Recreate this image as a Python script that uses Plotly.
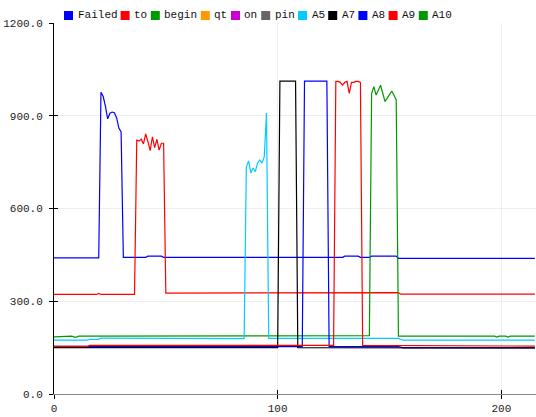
import plotly.graph_objects as go

# ---------------- data ----------------
labels = ["Failed", "to", "begin", "qt", "on", "pin", "A5", "A7", "A8", "A9", "A10"]
palette = ["#0000FF", "#FF0000", "#009900", "#FF9900", "#CC00CC", "#666666", "#00CCFF", "#000000"]

failed_x = [0, 20, 21, 22, 23, 24, 25, 26, 27, 28, 29, 30, 31, 41, 42, 48, 49, 129, 130, 136, 137, 141, 142, 153, 154, 215]
failed_y = [440, 440, 976, 962, 930, 890, 908, 912, 910, 893, 860, 848, 442, 442, 446, 446, 442, 442, 446, 446, 442, 442, 446, 446, 439, 439]

to_x = [0, 19, 20, 21, 36, 37, 38, 39, 40, 41, 42, 43, 44, 45, 46, 47, 48, 49, 50, 128, 129, 136, 137, 141, 142, 154, 155, 215]
to_y = [322, 322, 325, 322, 322, 821, 818, 824, 809, 841, 816, 787, 832, 797, 824, 789, 811, 811, 326, 326, 328, 328, 326, 326, 328, 328, 323, 323]

begin_x = [0, 2, 3, 8, 9, 10, 11, 109, 110, 111, 113, 114, 119, 120, 122, 123, 127, 128, 131, 132,
           141, 142, 143, 144, 145, 146, 147, 148, 149, 150, 151, 152, 153, 154,
           197, 198, 199, 202, 203, 204, 215]
begin_y = [185, 185, 187, 187, 184, 184, 187, 187, 189, 187, 187, 189, 189, 187, 187, 189, 189, 187, 187, 189,
           189, 972, 994, 967, 983, 999, 972, 946, 957, 968, 980, 966, 951, 187,
           187, 184, 187, 187, 184, 187, 187]

a5_x = [0, 15, 16, 20, 21, 22, 23, 85, 86, 87, 88, 89, 90, 91, 92, 93, 94, 95, 96, 154, 156, 215]
a5_y = [174, 174, 177, 177, 181, 181, 179, 179, 735, 754, 715, 731, 719, 747, 757, 747, 767, 909, 180, 180, 174, 174]

a7_x = [0, 100, 101, 108, 109, 215]
a7_y = [150, 150, 1012, 1012, 150, 149]

a8_x = [0, 15, 16, 111, 112, 122, 123, 154, 156, 215]
a8_y = [154, 154, 153, 153, 1012, 1012, 153, 153, 149, 149]

a9_x = [0, 15, 16, 125, 126, 127, 128, 129, 130, 131, 132, 133, 134, 135, 136, 137, 138, 154, 156, 215]
a9_y = [154, 154, 157, 157, 1011, 1011, 1008, 999, 1008, 1011, 972, 1008, 1008, 1011, 1011, 1008, 157, 157, 155, 155]

x_ticks = [0, 100, 200]
y_ticks = [0, 300, 600, 900, 1200]
x_range = [0, 215.5]
y_range = [0, 1200]

# ---------------- figure ----------------
W, H = 536, 417
ML, MR, MT, MB = 54, 0, 23, 23
FONT = "Liberation Mono, Courier New, monospace"

def color_of(name):
    return palette[labels.index(name) % len(palette)]

series = [
    ("Failed", failed_x, failed_y),
    ("to", to_x, to_y),
    ("begin", begin_x, begin_y),
    ("A5", a5_x, a5_y),
    ("A8", a8_x, a8_y),
    ("A7", a7_x, a7_y),
    ("A9", a9_x, a9_y),
]

fig = go.Figure()
for name, xs, ys in series:
    assert len(xs) == len(ys), name
    fig.add_trace(go.Scatter(x=xs, y=ys, mode="lines", name=name,
                             line=dict(color=color_of(name), width=1.2),
                             showlegend=False, hoverinfo="skip"))

# dummy trace for overlay axes (inner half of the crossing ticks)
fig.add_trace(go.Scatter(x=[], y=[], xaxis="x2", yaxis="y2", showlegend=False))

fig.update_layout(
    width=W, height=H,
    margin=dict(l=ML, r=MR, t=MT, b=MB, pad=0),
    paper_bgcolor="white", plot_bgcolor="white",
    font=dict(family=FONT, size=11, color="#222222"),
    showlegend=False,
    xaxis=dict(range=x_range, tickvals=x_ticks, showgrid=True, gridcolor="#eeeeee", gridwidth=1,
               zeroline=False, showline=True, linecolor="#888888", linewidth=1, automargin=False,
               ticks="outside", ticklen=4, tickcolor="#000000", tickwidth=1,
               tickfont=dict(family=FONT, size=11, color="#222222")),
    yaxis=dict(range=y_range, tickvals=y_ticks, tickformat=".1f", showgrid=True, gridcolor="#eeeeee",
               gridwidth=1, zeroline=False, showline=True, linecolor="#000000", linewidth=1,
               automargin=False,
               ticks="outside", ticklen=4, tickcolor="#000000", tickwidth=1, ticklabelstandoff=4,
               tickfont=dict(family=FONT, size=11, color="#222222")),
    xaxis2=dict(range=x_range, tickvals=x_ticks, overlaying="x", anchor="y", side="bottom",
                showticklabels=False, showgrid=False, zeroline=False, showline=False,
                ticks="inside", ticklen=4, tickcolor="#000000", tickwidth=1),
    yaxis2=dict(range=y_range, tickvals=y_ticks, overlaying="y", anchor="x", side="left",
                showticklabels=False, showgrid=False, zeroline=False, showline=False,
                ticks="inside", ticklen=4, tickcolor="#000000", tickwidth=1),
)

# ---------------- custom legend (squares + text) ----------------
pw = W - ML - MR
ph = H - MT - MB

def px_x(px):
    return (px - ML) / pw

def px_y(py):
    return (H - MB - py) / ph

char_w = 6.6
sq = 9
cur = 64.0
cy = 15.5
for i, lab in enumerate(labels):
    col = palette[i % len(palette)]
    fig.add_shape(type="rect", xref="paper", yref="paper",
                  x0=px_x(cur), x1=px_x(cur + sq), y0=px_y(cy + sq / 2), y1=px_y(cy - sq / 2),
                  fillcolor=col, line=dict(width=0))
    tx = cur + sq + 3.5
    fig.add_annotation(xref="paper", yref="paper", x=px_x(tx), y=px_y(cy),
                       xanchor="left", yanchor="middle", showarrow=False, text=lab,
                       font=dict(family=FONT, size=11, color="#111111"), borderpad=0)
    cur = tx + len(lab) * char_w + 4.5

fig.write_html("out.html", config={"displayModeBar": False},
               post_script="document.body.style.margin='0';document.body.style.overflow='hidden';")
